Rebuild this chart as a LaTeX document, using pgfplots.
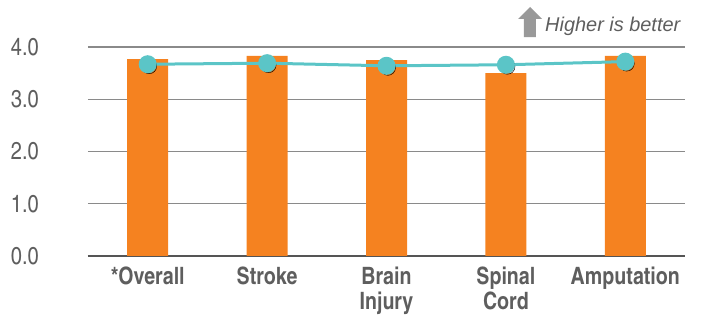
\documentclass[border=0pt]{standalone}
\usepackage{pgfplots}
\pgfplotsset{compat=1.18}
\usepackage{fontspec}
\setmainfont{Liberation Sans}
\newfontfamily\condfont{texgyreheroscn}[Extension=.otf, UprightFont=*-regular, BoldFont=*-bold]
\definecolor{barorange}{HTML}{F58220}
\definecolor{lineteal}{HTML}{5BC5C7}
\definecolor{txtgray}{HTML}{5E5E5E}
\definecolor{gridgray}{HTML}{8A8A8A}
\definecolor{axisgray}{HTML}{555555}
\begin{document}
\begin{tikzpicture}
\begin{axis}[
  scale only axis,
  width=597bp, height=209bp,
  xmin=-0.5, xmax=4.5,
  ymin=0, ymax=4,
  clip=false,
  axis line style={draw=none},
  tick style={draw=none},
  xtick={0,1,2,3,4},
  xticklabels={{*Overall},{Stroke},{Brain\\Injury},{Spinal\\Cord},{Amputation}},
  xticklabel style={font=\condfont\bfseries\fontsize{24}{25}\selectfont, text=txtgray, align=center, anchor=north, inner sep=0pt, yshift=-11bp},
  ytick={0,1,2,3,4},
  yticklabels={0.0,1.0,2.0,3.0,4.0},
  yticklabel style={font=\condfont\fontsize{24.5}{24}\selectfont, text=txtgray, anchor=east, inner sep=0pt, xshift=-49bp},
  ymajorgrids,
  grid style={draw=gridgray, line width=1.2bp},
  extra y ticks={0},
  extra y tick labels={},
  extra y tick style={grid style={draw=axisgray, line width=1.8bp}},
]
\addplot[ybar, bar width=41bp, fill=barorange, draw=none] coordinates {
  (0,3.77) (1,3.83) (2,3.75) (3,3.50) (4,3.83)
};
% shadow of markers
\addplot[only marks, mark=*, mark size=7.5bp, mark options={draw=none, fill=black, fill opacity=0.18, xshift=1.5bp, yshift=-2bp}] coordinates {
  (0,3.67) (1,3.69) (2,3.64) (3,3.66) (4,3.72)
};
\addplot[lineteal, line width=3bp, mark=*, mark size=7.5bp, mark options={draw=none, fill=lineteal}] coordinates {
  (0,3.67) (1,3.69) (2,3.64) (3,3.66) (4,3.72)
};
% annotation
\fill[black!40] (axis description cs:0.7303,1.0478) -- (axis description cs:0.7303,1.1340) -- (axis description cs:0.7203,1.1340) -- (axis description cs:0.7404,1.1914) -- (axis description cs:0.7605,1.1340) -- (axis description cs:0.7504,1.1340) -- (axis description cs:0.7504,1.0478) -- cycle;
\node[anchor=base west, inner sep=0pt, text=txtgray, font=\itshape\fontsize{20}{20}\selectfont] at (axis description cs:0.7655,1.0720) {Higher is better};
\coordinate (bl) at (axis description cs:-0.14740,-0.28230);
\coordinate (tr) at (axis description cs:1.03350,1.22488);
\end{axis}
\pgfresetboundingbox
\useasboundingbox (bl) rectangle (tr);
\end{tikzpicture}
\end{document}
